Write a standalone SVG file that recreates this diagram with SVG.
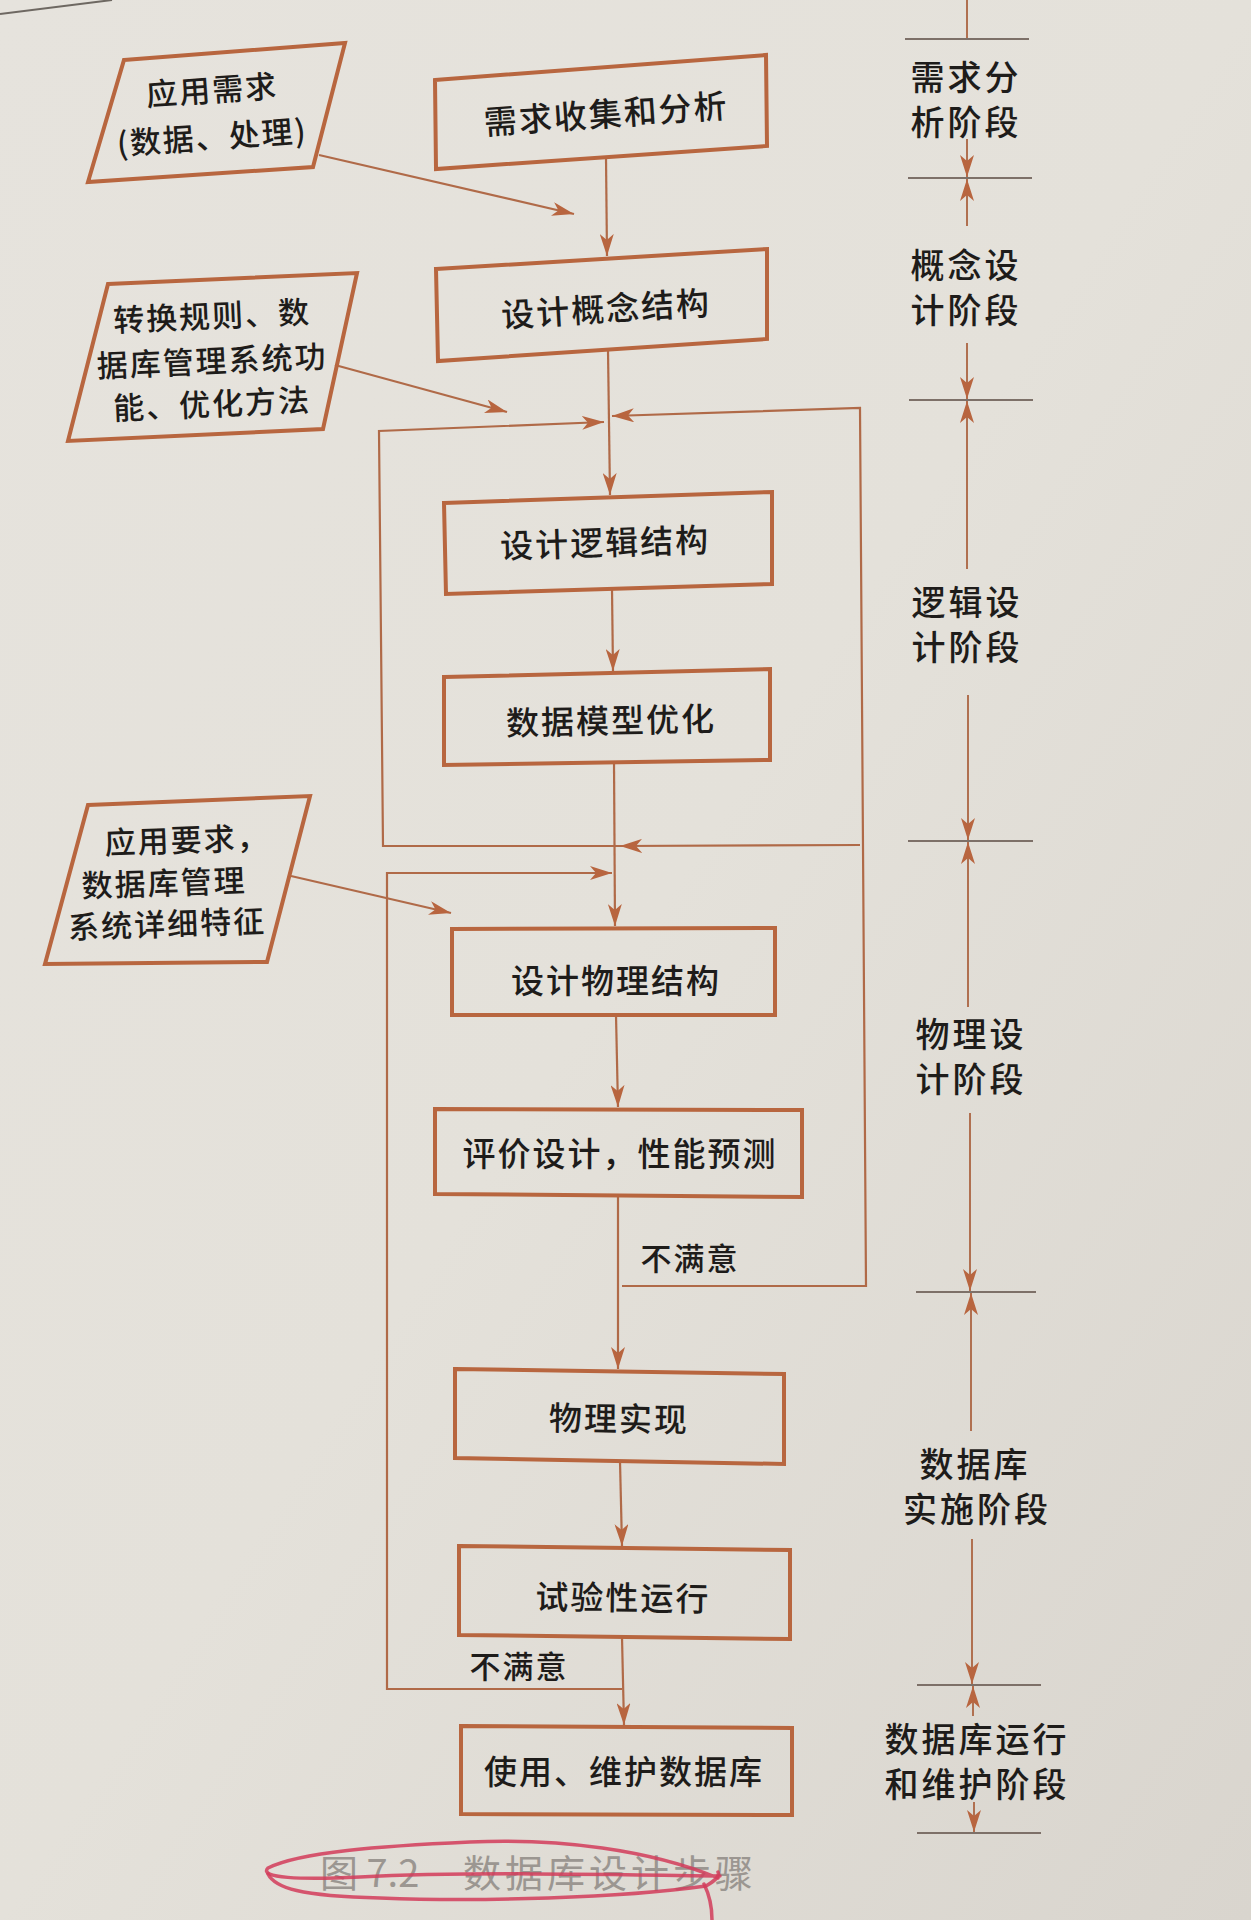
<svg xmlns="http://www.w3.org/2000/svg" width="1251" height="1920" viewBox="0 0 1251 1920">
<defs>
<linearGradient id="paper" x1="0" y1="0" x2="1" y2="1">
<stop offset="0" stop-color="#e6e3dd"/>
<stop offset="0.5" stop-color="#e4e1da"/>
<stop offset="1" stop-color="#d9d5ce"/>
</linearGradient>
<marker id="ah" markerUnits="userSpaceOnUse" markerWidth="24" markerHeight="14" refX="22" refY="7" orient="auto">
<path d="M0,0 L22,7 L0,14 L6,7 Z" fill="#b8653f"/>
</marker>
<style>
.box{fill:none;stroke:#b8663f;stroke-width:4;stroke-linejoin:miter}
.para{fill:none;stroke:#b8663f;stroke-width:4}
.ln{fill:none;stroke:#b06a48;stroke-width:2.2}
.ph{fill:none;stroke:#b07050;stroke-width:2}
.tick{fill:none;stroke:#7d7068;stroke-width:2.2}
.t{font-family:"Noto Sans CJK SC","Noto Sans",sans-serif;font-size:33px;font-weight:500;fill:#1e1c1a;text-anchor:middle;dominant-baseline:central;letter-spacing:2px}
.p{font-family:"Noto Sans CJK SC","Noto Sans",sans-serif;font-size:31px;font-weight:500;fill:#1e1c1a;text-anchor:middle;dominant-baseline:central;letter-spacing:2px}
.s{font-family:"Noto Sans CJK SC","Noto Sans",sans-serif;font-size:34px;font-weight:500;fill:#1e1c1a;text-anchor:middle;dominant-baseline:central;letter-spacing:3px}
.red{fill:none;stroke:#d23c5a;stroke-width:3.5;stroke-linecap:round;opacity:0.85}
</style>
</defs>
<rect x="0" y="0" width="1251" height="1920" fill="url(#paper)"/>
<line x1="0" y1="14" x2="112" y2="0" stroke="#6e6862" stroke-width="2"/>

<g id="connectors">
<path class="ln" d="M606,157 L607,256" marker-end="url(#ah)"/>
<path class="ln" d="M319,155 L574,214" marker-end="url(#ah)"/>
<path class="ln" d="M608,350 L610,495" marker-end="url(#ah)"/>
<path class="ln" d="M335,365 L507,412" marker-end="url(#ah)"/>
<path class="ln" d="M620,846 L383,846 L379,431 L604,422" marker-end="url(#ah)"/>
<path class="ln" d="M622,1286 L866,1286 L860,408 L612,416" marker-end="url(#ah)"/>
<path class="ln" d="M860,845 L620,846" marker-end="url(#ah)"/>
<path class="ln" d="M612,589 L613,671" marker-end="url(#ah)"/>
<path class="ln" d="M614,762 L615,926" marker-end="url(#ah)"/>
<path class="ln" d="M622,1689 L387,1689 L387,873 L612,873" marker-end="url(#ah)"/>
<path class="ln" d="M291,876 L451,913" marker-end="url(#ah)"/>
<path class="ln" d="M616,1015 L618,1107" marker-end="url(#ah)"/>
<path class="ln" d="M618,1196 L618,1369" marker-end="url(#ah)"/>
<path class="ln" d="M620,1461 L622,1546" marker-end="url(#ah)"/>
<path class="ln" d="M622,1637 L624,1725" marker-end="url(#ah)"/>
</g>

<g id="phases">
<path class="ph" d="M967,0 L967,39"/>
<path class="tick" d="M905,39 L1029,39"/>
<path class="ph" d="M967,139 L967,177" marker-end="url(#ah)"/>
<path class="tick" d="M908,178 L1032,178"/>
<path class="ph" d="M967,226 L967,179" marker-end="url(#ah)"/>
<path class="ph" d="M967,343 L967,399" marker-end="url(#ah)"/>
<path class="tick" d="M909,400 L1033,400"/>
<path class="ph" d="M967,569 L967,401" marker-end="url(#ah)"/>
<path class="ph" d="M968,695 L968,840" marker-end="url(#ah)"/>
<path class="tick" d="M908,841 L1033,841"/>
<path class="ph" d="M968,1007 L968,842" marker-end="url(#ah)"/>
<path class="ph" d="M970,1113 L970,1291" marker-end="url(#ah)"/>
<path class="tick" d="M916,1292 L1036,1292"/>
<path class="ph" d="M971,1431 L971,1293" marker-end="url(#ah)"/>
<path class="ph" d="M972,1539 L972,1684" marker-end="url(#ah)"/>
<path class="tick" d="M917,1685 L1041,1685"/>
<path class="ph" d="M973,1716 L973,1686" marker-end="url(#ah)"/>
<path class="ph" d="M974,1802 L974,1832" marker-end="url(#ah)"/>
<path class="tick" d="M917,1833 L1041,1833"/>
<text class="s" x="966" y="75">需求分</text>
<text class="s" x="966" y="120">析阶段</text>
<text class="s" x="966" y="263">概念设</text>
<text class="s" x="966" y="308">计阶段</text>
<text class="s" x="967" y="600">逻辑设</text>
<text class="s" x="967" y="645">计阶段</text>
<text class="s" x="971" y="1032">物理设</text>
<text class="s" x="971" y="1077">计阶段</text>
<text class="s" x="975" y="1462">数据库</text>
<text class="s" x="977" y="1507">实施阶段</text>
<text class="s" x="977" y="1737">数据库运行</text>
<text class="s" x="977" y="1782">和维护阶段</text>
</g>

<g id="n1"><polygon class="box" points="435,80 766,55 767,146 436,169"/><text class="t" x="606" y="112" transform="rotate(-4 606 112)">需求收集和分析</text></g>
<g id="n2"><polygon class="box" points="436,269 767,249 767,339 438,361"/><text class="t" x="606" y="307" transform="rotate(-3.5 606 307)">设计概念结构</text></g>
<g id="n3"><polygon class="box" points="444,503 772,492 772,584 446,594"/><text class="t" x="605" y="541" transform="rotate(-1.8 605 541)">设计逻辑结构</text></g>
<g id="n4"><polygon class="box" points="444,677 770,669 770,760 444,765"/><text class="t" x="611" y="719" transform="rotate(-1.2 611 719)">数据模型优化</text></g>
<g id="n5"><polygon class="box" points="452,929 775,928 775,1015 452,1015"/><text class="t" x="616" y="979">设计物理结构</text></g>
<g id="n6"><polygon class="box" points="435,1109 802,1110 802,1197 435,1194"/><text class="t" x="620" y="1152">评价设计，性能预测</text></g>
<g id="n7"><polygon class="box" points="455,1369 784,1374 784,1464 455,1458"/><text class="t" x="619" y="1417" transform="rotate(0.8 619 1417)">物理实现</text></g>
<g id="n8"><polygon class="box" points="459,1546 790,1550 790,1639 459,1635"/><text class="t" x="623" y="1596" transform="rotate(0.7 623 1596)">试验性运行</text></g>
<g id="n9"><polygon class="box" points="461,1726 792,1728 792,1815 461,1814"/><text class="t" x="624" y="1770">使用、维护数据库</text></g>

<g id="p1"><polygon class="para" points="124,60 345,43 313,167 88,182"/>
<text class="p" x="212" y="88" transform="rotate(-4 212 88)">应用需求</text>
<text class="p" x="212" y="135" transform="rotate(-4 212 135)">(数据、处理)</text></g>
<g id="p2"><polygon class="para" points="108,284 357,273 323,429 68,441"/>
<text class="p" x="212" y="314" transform="rotate(-2.5 212 314)">转换规则、数</text>
<text class="p" x="212" y="359" transform="rotate(-2.5 212 359)">据库管理系统功</text>
<text class="p" x="212" y="402" transform="rotate(-2.5 212 402)">能、优化方法</text></g>
<g id="p3"><polygon class="para" points="88,805 310,796 267,962 45,964"/>
<text class="p" x="187" y="838" transform="rotate(-2 187 838)">应用要求，</text>
<text class="p" x="164" y="881" transform="rotate(-2 164 881)">数据库管理</text>
<text class="p" x="167" y="922" transform="rotate(-2 167 922)">系统详细特征</text></g>

<g id="labels">
<text class="p" x="690" y="1256">不满意</text>
<text class="p" x="519" y="1664">不满意</text>
</g>

<g id="caption">
<text x="320" y="1870" font-family="'Noto Sans CJK SC','Noto Serif',serif" font-size="38" fill="#9b9691" dominant-baseline="central">图 7.2</text>
<text x="463" y="1870" font-family="'Noto Sans CJK SC','Noto Serif',serif" font-size="38" fill="#9b9691" dominant-baseline="central" letter-spacing="4">数据库设计步骤</text>
<path class="red" d="M718,1878 C650,1850 560,1838 470,1842 C380,1846 300,1852 268,1868 C258,1878 300,1880 360,1877 C460,1872 600,1874 720,1876"/>
<path class="red" d="M268,1874 C275,1888 300,1896 380,1898 C480,1902 620,1898 706,1886 C716,1880 720,1876 718,1872"/>
<path class="red" d="M704,1884 C710,1896 712,1906 712,1920"/>
</g>
</svg>
